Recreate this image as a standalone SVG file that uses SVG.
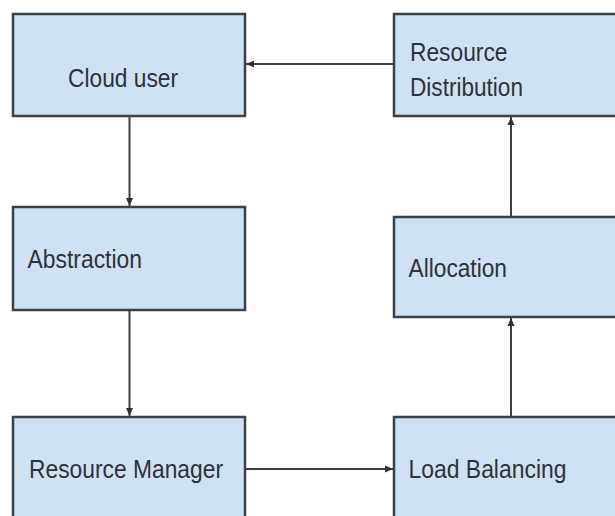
<svg xmlns="http://www.w3.org/2000/svg" width="615" height="516" viewBox="0 0 615 516">
  <defs>
    <style>
      .box { fill: #cfe2f3; stroke: #3c4148; stroke-width: 2.5; }
      .lbl { font-family: "Liberation Sans", Arial, sans-serif; font-size: 26px; fill: #2e3238; }
      .edge { stroke: #3c4148; stroke-width: 2; fill: none; marker-end: url(#arrow); }
    </style>
    <marker id="arrow" markerUnits="userSpaceOnUse" markerWidth="9" markerHeight="8" refX="8" refY="4" orient="auto">
      <path d="M0,0.5 L8,4 L0,7.5 z" fill="#2e3238"/>
    </marker>
  </defs>
  <rect width="615" height="516" fill="#ffffff"/>

  <g id="connectors">
    <line class="edge" x1="394" y1="64" x2="246" y2="64"/>
    <line class="edge" x1="129.5" y1="117" x2="129.5" y2="206"/>
    <line class="edge" x1="129.5" y1="311" x2="129.5" y2="416"/>
    <line class="edge" x1="245" y1="469" x2="393" y2="469"/>
    <line class="edge" x1="511" y1="416" x2="511" y2="318"/>
    <line class="edge" x1="511" y1="216" x2="511" y2="117"/>
  </g>

  <g id="cloud-user">
    <rect class="box" x="13" y="14" width="232" height="102"/>
    <text class="lbl" x="68" y="86.5" textLength="110" lengthAdjust="spacingAndGlyphs">Cloud user</text>
  </g>

  <g id="resource-distribution">
    <rect class="box" x="394" y="14" width="240" height="102"/>
    <text class="lbl" x="410" y="60.5" textLength="97.5" lengthAdjust="spacingAndGlyphs">Resource</text>
    <text class="lbl" x="410" y="95.5" textLength="113" lengthAdjust="spacingAndGlyphs">Distribution</text>
  </g>

  <g id="abstraction">
    <rect class="box" x="13" y="207" width="232" height="103"/>
    <text class="lbl" x="27.5" y="268" textLength="114.5" lengthAdjust="spacingAndGlyphs">Abstraction</text>
  </g>

  <g id="allocation">
    <rect class="box" x="394" y="217" width="240" height="100"/>
    <text class="lbl" x="408.5" y="277" textLength="98.5" lengthAdjust="spacingAndGlyphs">Allocation</text>
  </g>

  <g id="resource-manager">
    <rect class="box" x="13" y="417" width="232" height="115"/>
    <text class="lbl" x="29" y="478" textLength="194" lengthAdjust="spacingAndGlyphs">Resource Manager</text>
  </g>

  <g id="load-balancing">
    <rect class="box" x="394" y="417" width="240" height="115"/>
    <text class="lbl" x="408.5" y="478" textLength="158" lengthAdjust="spacingAndGlyphs">Load Balancing</text>
  </g>
</svg>
